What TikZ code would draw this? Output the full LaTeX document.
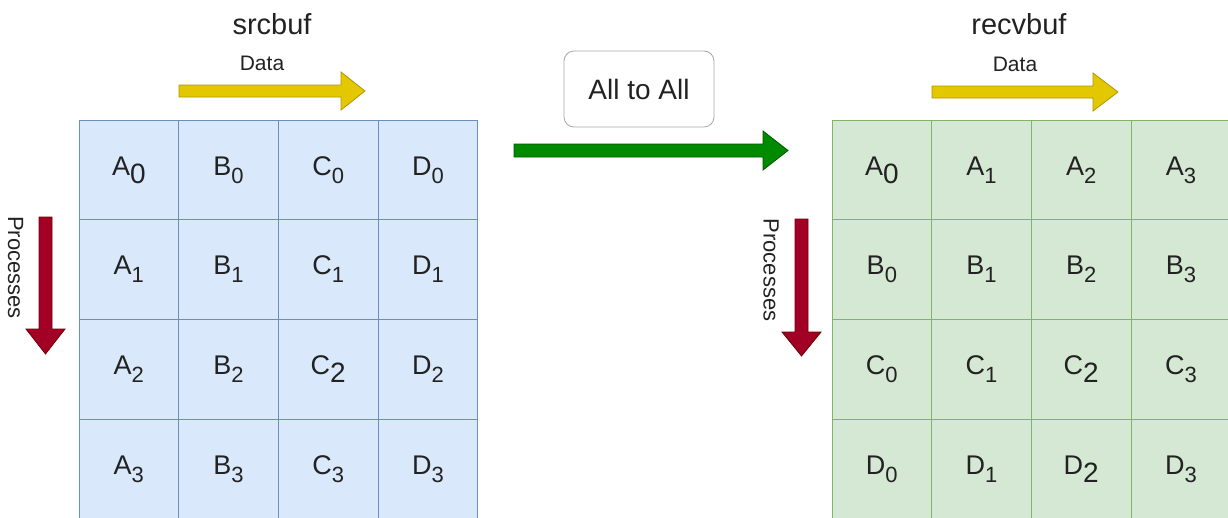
\documentclass[tikz,border=0pt]{standalone}
\usepackage{fontspec}
\setmainfont{Liberation Sans}

\definecolor{srcfill}{HTML}{DAE8FC}
\definecolor{srcline}{HTML}{6C8EBF}
\definecolor{recvfill}{HTML}{D5E8D4}
\definecolor{recvline}{HTML}{82B366}
\definecolor{datafill}{HTML}{E3C800}
\definecolor{dataline}{HTML}{B09500}
\definecolor{procfill}{HTML}{A20025}
\definecolor{procline}{HTML}{6F0000}
\definecolor{xfill}{HTML}{008A00}
\definecolor{xline}{HTML}{005700}
\definecolor{ink}{HTML}{222222}

% subscripts: small one, and the odd full size one
\newcommand{\ssub}[1]{\raisebox{-8pt}{\fontsize{22}{22}\selectfont #1}}
\newcommand{\bsub}[1]{\raisebox{-8pt}{\fontsize{28}{28}\selectfont #1}}

\tikzset{
  cellbox/.style={minimum size=99.7pt, inner sep=0pt, outer sep=0pt, text=ink,
    font=\fontsize{27}{27}\selectfont},
  srccell/.style={cellbox, draw=srcline, fill=srcfill},
  recvcell/.style={cellbox, draw=recvline, fill=recvfill},
  title/.style={text=ink, font=\fontsize{29}{29}\selectfont},
  datalabel/.style={text=ink, font=\fontsize{21}{21}\selectfont},
  proclabel/.style={text=ink, font=\fontsize{22}{22}\selectfont, rotate=-90},
}

\begin{document}
\begin{tikzpicture}[x=1pt, y=-1pt, line width=0.8pt]

\useasboundingbox (0,0) rectangle (1228,517);
\clip (0,0) rectangle (1228,517);

% srcbuf grid
\foreach \t [count=\k from 0] in {A\bsub0,B\ssub0,C\ssub0,D\ssub0,
                                  A\ssub1,B\ssub1,C\ssub1,D\ssub1,
                                  A\ssub2,B\ssub2,C\bsub2,D\ssub2,
                                  A\ssub3,B\ssub3,C\ssub3,D\ssub3}{%
    \pgfmathtruncatemacro\r{floor(\k/4)}%
    \pgfmathtruncatemacro\c{mod(\k,4)}%
    \node[srccell] (src-\r-\c) at (128.85+\c*99.7, 169.85+\r*99.7) {\t};}

% recvbuf grid
\foreach \t [count=\k from 0] in {A\bsub0,A\ssub1,A\ssub2,A\ssub3,
                                  B\ssub0,B\ssub1,B\ssub2,B\ssub3,
                                  C\ssub0,C\ssub1,C\bsub2,C\ssub3,
                                  D\ssub0,D\ssub1,D\bsub2,D\ssub3}{%
    \pgfmathtruncatemacro\r{floor(\k/4)}%
    \pgfmathtruncatemacro\c{mod(\k,4)}%
    \node[recvcell] (recv-\r-\c) at (881.85+\c*99.7, 169.85+\r*99.7) {\t};}

% titles
\node[title] (srcbuf) at (272,24) {srcbuf};
\node[title] (recvbuf) at (1019,24) {recvbuf};

% data direction
\node[datalabel] (src-data) at (262,63) {Data};
\node[datalabel] (recv-data) at (1015,64) {Data};
\filldraw[fill=datafill, draw=dataline]
  (179,85)--(341,85)--(341,72)--(365,91)--(341,110)--(341,97)--(179,97)--cycle;
\filldraw[fill=datafill, draw=dataline]
  (932,86)--(1093,86)--(1093,73)--(1118,92)--(1093,111)--(1093,98)--(932,98)--cycle;

% process direction
\node[proclabel] (src-proc) at (15.5,267.5) {Processes};
\node[proclabel] (recv-proc) at (771,270) {Processes};
\filldraw[fill=procfill, draw=procline]
  (39,217)--(52,217)--(52,329)--(65,329)--(45.5,354)--(26,329)--(39,329)--cycle;
\filldraw[fill=procfill, draw=procline]
  (795,219)--(808,219)--(808,332)--(821,332)--(801.5,356)--(782,332)--(795,332)--cycle;

% the exchange
\node[draw=black!35, rounded corners=10pt, minimum width=150pt, minimum height=76pt,
      text=ink, font=\fontsize{28}{28}\selectfont] (alltoall) at (639,89) {All to All};
\filldraw[fill=xfill, draw=xline]
  (514,144)--(763,144)--(763,131)--(788,150.5)--(763,170)--(763,157)--(514,157)--cycle;

\end{tikzpicture}
\end{document}
